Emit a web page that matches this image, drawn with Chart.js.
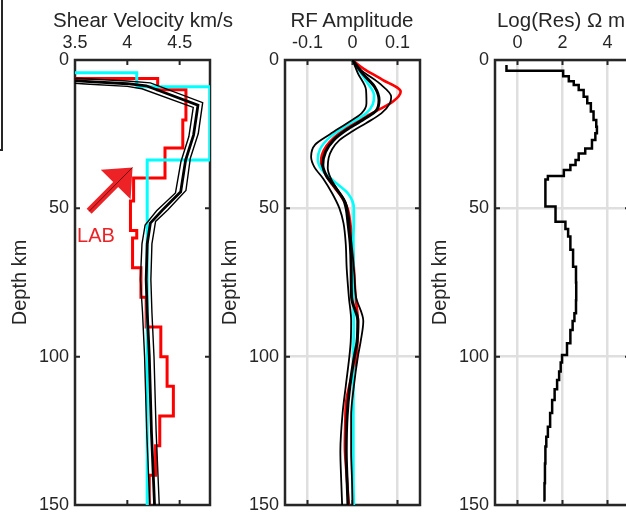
<!DOCTYPE html>
<html><head><meta charset="utf-8">
<script src="https://cdn.jsdelivr.net/npm/chart.js@4"></script>
<style>
html,body{margin:0;padding:0;width:626px;height:515px;overflow:hidden;background:#fff;}
canvas{position:absolute;top:0;}
.ttl{position:absolute;top:8px;font:20.5px 'Liberation Sans',Arial,Helvetica,sans-serif;line-height:24px;color:#262626;white-space:nowrap;transform:translateX(-50%);}
#edge{position:absolute;left:-20px;top:-5px;width:21px;height:154px;border-right:2px solid #262626;border-bottom:2px solid #262626;}
</style></head><body>
<div id="edge"></div>
<canvas id="c1" width="215" height="515" style="left:0px"></canvas>
<canvas id="c2" width="215" height="515" style="left:210px"></canvas>
<canvas id="c3" width="215" height="515" style="left:420px"></canvas>
<div class="ttl" style="left:143px">Shear Velocity km/s</div>
<div class="ttl" style="left:352px">RF Amplitude</div>
<div class="ttl" style="left:561px">Log(Res) Ω m</div>
<script>
// ---------------- data ----------------
const depthTicks = [0, 50, 100, 150];
const vsTicks = [3.5, 4, 4.5];
const rfTicks = [-0.1, 0, 0.1];
const resTicks = [0, 2, 4];

// Panel 1 - layered models (layer-top depth km, Vs km/s)
const redDepth = [0, 6.2, 10, 20.2, 29.7, 39.8, 47.5, 57.5, 60, 70, 80, 90, 100, 110, 120, 130, 140, 150];
const redVs    = [3.2, 4.29, 4.56, 4.53, 4.36, 4.06, 4.03, 4.09, 4.05, 4.13, 4.18, 4.32, 4.38, 4.44, 4.31, 4.27, 4.21, 4.21];
const cyanDepth = [0, 4.3, 9, 33.7, 150];
const cyanVs    = [3.2, 4.09, 4.79, 4.19, 4.19];

// Panel 1 - inverted Vs profile (middle) and bounds
const vsMidDepth = [6.5, 7.2, 8.0, 8.7, 15.2, 25.3, 33.7, 44.4, 50.6, 55, 62, 74, 85, 100, 125, 150];
const vsMid      = [3.3, 3.6, 4.0, 4.18, 4.675, 4.633, 4.557, 4.51, 4.335, 4.22, 4.19, 4.18, 4.19, 4.21, 4.23, 4.26];
const vsLowDepth = [7.3, 8.1, 8.9, 9.7, 16.0, 25.8, 34.3, 44.8, 50.8, 55.6, 62, 74, 85, 100, 125, 150];
const vsLow      = [3.3, 3.6, 4.0, 4.14, 4.63, 4.588, 4.512, 4.46, 4.28, 4.17, 4.14, 4.125, 4.145, 4.165, 4.185, 4.215];
const vsHighDepth = [5.7, 6.3, 7.1, 7.7, 14.4, 24.8, 33.1, 44.0, 50.4, 54.4, 62, 74, 85, 100, 125, 150];
const vsHigh      = [3.3, 3.6, 4.0, 4.22, 4.72, 4.678, 4.602, 4.56, 4.39, 4.27, 4.235, 4.225, 4.235, 4.255, 4.275, 4.305];

// Panel 2 - receiver functions
const rfRedDepth = [0, 3, 6.5, 10.7, 14, 17, 20, 23, 26, 29, 32, 34.7, 38, 42, 46, 50, 55, 62, 70, 80, 88, 95, 101, 108, 115, 122, 130, 140, 150];
const rfRed      = [0, 0.025, 0.065, 0.107, 0.09, 0.055, 0.018, -0.015, -0.04, -0.058, -0.068, -0.07, -0.062, -0.045, -0.025, -0.011, -0.005, 0.0, 0.003, 0.007, 0.012, 0.011, 0.008, -0.004, -0.014, -0.016, -0.017, -0.013, -0.008];
const rfCyanDepth = [0, 3, 7, 12, 15, 18, 22, 26, 30, 33.6, 37, 41, 45, 50, 55, 60, 70, 80, 90, 100, 110, 120, 130, 140, 150];
const rfCyan      = [0, 0.012, 0.03, 0.048, 0.045, 0.03, -0.012, -0.05, -0.072, -0.077, -0.068, -0.04, -0.01, 0.003, 0.003, 0.002, 0.002, 0.002, 0.003, 0.002, 0.002, 0.002, 0.002, 0.002, 0.003];
const rfMidDepth = [0, 4.5, 9, 13.5, 17, 20, 23.6, 27, 31, 35.4, 39, 43, 47, 50, 55, 62, 70, 80, 88, 95, 100, 110, 120, 132, 142, 150];
const rfMid      = [0, 0.022, 0.049, 0.059, 0.053, 0.025, -0.014, -0.042, -0.06, -0.066, -0.058, -0.038, -0.02, -0.014, -0.01, -0.005, -0.003, -0.002, 0.012, 0.01, 0.004, -0.006, -0.012, -0.014, -0.012, -0.01];
const rfHighDepth = [0, 3.4, 7.9, 12.4, 14.6, 18, 21.3, 24, 27, 30, 33, 36.5, 40, 44, 48, 52, 58, 65, 72, 80, 88, 95, 100, 110, 120, 132, 142, 150];
const rfHigh      = [0, 0.019, 0.06, 0.086, 0.083, 0.064, 0.03, 0.0, -0.029, -0.045, -0.053, -0.055, -0.048, -0.032, -0.015, -0.009, -0.005, 0.0, 0.004, 0.008, 0.024, 0.018, 0.012, 0.003, -0.003, -0.003, -0.001, 0.0];
const rfLowDepth = [0, 4.5, 10, 14.6, 18, 21.3, 25, 28.5, 32.6, 36, 40, 45, 50, 55, 62, 70, 80, 88, 95, 100, 110, 119, 132, 142, 150];
const rfLow      = [0, 0.012, 0.03, 0.031, 0.02, -0.012, -0.05, -0.083, -0.092, -0.085, -0.065, -0.045, -0.029, -0.02, -0.015, -0.013, -0.008, -0.003, -0.004, -0.007, -0.015, -0.022, -0.027, -0.025, -0.023];

// Panel 3 - log10 resistivity (layer-top depth km, log ohm-m)
const resDepth = [1.7, 3.6, 5.5, 7.2, 8.4, 10.1, 12.4, 14.6, 17.4, 20.2, 22.5, 24.7, 27, 29.8, 31.5, 33.7, 35.4, 37.1, 39.1, 40.3, 49.4, 54.5, 57, 59.5, 64, 69.7, 75, 81, 85.4, 88, 91, 95.5, 99.4, 102, 105, 107.9, 111, 114.6, 119, 123.6, 127, 130.3, 136, 142.7, 148.5];
const resLog   = [-0.49, 2.03, 2.28, 2.5, 2.72, 2.94, 3.1, 3.26, 3.38, 3.5, 3.53, 3.46, 3.31, 3.01, 2.72, 2.58, 2.35, 2.06, 1.35, 1.24, 1.69, 2.13, 2.25, 2.35, 2.47, 2.6, 2.61, 2.6, 2.53, 2.45, 2.35, 2.2, 1.98, 1.92, 1.85, 1.76, 1.65, 1.54, 1.45, 1.35, 1.28, 1.24, 1.22, 1.2, 1.24];

// LAB annotation (data units of panel 1)
const labNote = { text: 'LAB', tailVs: 3.635, tailDepth: 51.0, tipVs: 4.05, tipDepth: 36.2, textVs: 3.70, textDepth: 61.3 };

// ---------------- drawing ----------------
const FONT = "'Liberation Sans', Arial, Helvetica, sans-serif";
const INK = '#262626';
const GRID = 'rgb(223,223,223)';
const RED = '#ff0000', CYAN = '#00ffff', BLACK = '#000000', LABRED = '#ec2227';
Chart.defaults.font.family = FONT;
Chart.defaults.color = INK;

const pts = (xs, ys) => xs.map((v, i) => ({ x: v, y: ys[i] }));
const ds = (xs, ys, color, width, extra) => Object.assign({
  data: pts(xs, ys), borderColor: color, backgroundColor: color, borderWidth: width,
  pointRadius: 0, tension: 0, fill: false, borderJoinStyle: 'miter', borderCapStyle: 'butt'
}, extra || {});

const frame = {
  id: 'frame',
  beforeDatasetsDraw(chart) {
    const { ctx, chartArea: a, scales: { x, y } } = chart;
    ctx.save();
    ctx.strokeStyle = INK;
    ctx.lineWidth = 2.5;
    ctx.strokeRect(a.left, a.top, a.right - a.left, a.bottom - a.top);
    ctx.lineWidth = 2;
    ctx.beginPath();
    x.ticks.forEach(t => {
      const px = x.getPixelForValue(t.value);
      ctx.moveTo(px, a.top); ctx.lineTo(px, a.top + 5);
      ctx.moveTo(px, a.bottom); ctx.lineTo(px, a.bottom - 5);
    });
    y.ticks.forEach(t => {
      const py = y.getPixelForValue(t.value);
      ctx.moveTo(a.left, py); ctx.lineTo(a.left + 5, py);
      ctx.moveTo(a.right, py); ctx.lineTo(a.right - 5, py);
    });
    ctx.stroke();
    ctx.restore();
  }
};

const labPlugin = {
  id: 'lab',
  afterDatasetsDraw(chart) {
    const { ctx, scales: { x, y } } = chart;
    const tx = x.getPixelForValue(labNote.tailVs), ty = y.getPixelForValue(labNote.tailDepth);
    const hx = x.getPixelForValue(labNote.tipVs), hy = y.getPixelForValue(labNote.tipDepth);
    const L = Math.hypot(hx - tx, hy - ty);
    const ux = (hx - tx) / L, uy = (hy - ty) / L, nx = -uy, ny = ux;
    const headLen = 24, headHalf = 21, shaftHalf = 3.5;
    const bx = hx - ux * headLen, by = hy - uy * headLen;
    ctx.save();
    ctx.fillStyle = LABRED;
    ctx.beginPath();
    ctx.moveTo(tx + nx * shaftHalf, ty + ny * shaftHalf);
    ctx.lineTo(bx + nx * shaftHalf, by + ny * shaftHalf);
    ctx.lineTo(bx + nx * headHalf, by + ny * headHalf);
    ctx.lineTo(hx, hy);
    ctx.lineTo(bx - nx * headHalf, by - ny * headHalf);
    ctx.lineTo(bx - nx * shaftHalf, by - ny * shaftHalf);
    ctx.lineTo(tx - nx * shaftHalf, ty - ny * shaftHalf);
    ctx.closePath();
    ctx.fill();
    ctx.strokeStyle = 'rgba(40,0,0,0.8)';
    ctx.lineWidth = 0.8;
    ctx.beginPath(); ctx.moveTo(tx, ty); ctx.lineTo(hx, hy); ctx.stroke();
    ctx.fillStyle = LABRED;
    ctx.font = '20px ' + FONT;
    ctx.textAlign = 'center';
    ctx.textBaseline = 'alphabetic';
    ctx.fillText(labNote.text, x.getPixelForValue(labNote.textVs), y.getPixelForValue(labNote.textDepth));
    ctx.restore();
  }
};

function makeChart(id, xMin, xMax, xTicks, showGrid, datasets, extra) {
  return new Chart(document.getElementById(id), {
    type: 'line',
    data: { datasets },
    options: {
      responsive: false, animation: false, events: [], indexAxis: 'y',
      layout: { padding: { left: 0, right: 5, top: 0, bottom: 10 } },
      plugins: { legend: { display: false }, tooltip: { enabled: false }, title: { display: false } },
      scales: {
        x: {
          type: 'linear', position: 'top', min: xMin, max: xMax,
          afterBuildTicks: s => { s.ticks = xTicks.map(v => ({ value: v })); },
          afterFit: s => { s.height = 60; s.paddingLeft = 0; s.paddingRight = 0; },
          grid: { display: showGrid, color: GRID, lineWidth: 2.5, drawTicks: false },
          border: { display: false },
          ticks: { padding: 6, color: INK, font: { size: 18 }, maxRotation: 0, autoSkip: false, callback: v => String(v) }
        },
        y: {
          type: 'linear', position: 'left', reverse: true, min: 0, max: 150,
          afterBuildTicks: s => { s.ticks = depthTicks.map(v => ({ value: v })); },
          afterFit: s => { s.width = 75; s.paddingTop = 0; s.paddingBottom = 0; },
          grid: { display: showGrid, color: GRID, lineWidth: 2.5, drawTicks: false },
          border: { display: false },
          ticks: { padding: 6, color: INK, font: { size: 18 }, autoSkip: false, callback: v => String(v) },
          title: { display: true, text: 'Depth km', color: INK, font: { size: 20 }, padding: { top: 8, bottom: 0 } }
        }
      }
    },
    plugins: [frame].concat(extra || [])
  });
}

makeChart('c1', 3.5, 4.79, vsTicks, false, [
  ds(vsMid, vsMidDepth, BLACK, 2.8),
  ds(vsLow, vsLowDepth, BLACK, 1.4),
  ds(vsHigh, vsHighDepth, BLACK, 1.4),
  ds(cyanVs, cyanDepth, CYAN, 3, { stepped: 'after' }),
  ds(redVs, redDepth, RED, 3, { stepped: 'after' })
], [labPlugin]);

const smooth = { cubicInterpolationMode: 'monotone', borderJoinStyle: 'round' };
makeChart('c2', -0.15, 0.15, rfTicks, true, [
  ds(rfMid, rfMidDepth, BLACK, 3, smooth),
  ds(rfLow, rfLowDepth, BLACK, 1.8, smooth),
  ds(rfHigh, rfHighDepth, BLACK, 1.8, smooth),
  ds(rfCyan, rfCyanDepth, CYAN, 2.6, smooth),
  ds(rfRed, rfRedDepth, RED, 2.6, smooth)
]);

makeChart('c3', -1, 5, resTicks, true, [
  ds(resLog, resDepth, BLACK, 2.5, { stepped: 'after' })
]);
</script>
</body></html>
